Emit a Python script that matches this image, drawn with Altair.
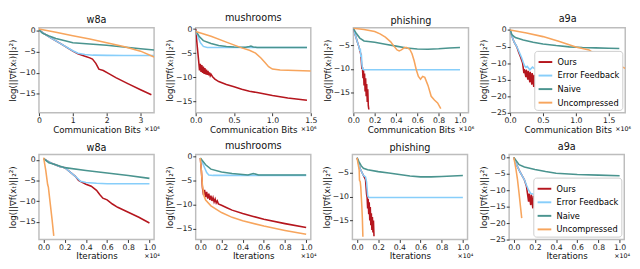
import altair as alt
import pandas as pd

methods = ["Ours", "Error Feedback", "Naive", "Uncompressed"]
colors = ["#b5161e", "#87cefa", "#4a948f", "#f7a55d"]
YTITLE = "log(||∇f(xₜ)||₂²)"

# ---------------- top row: communication bits ----------------
w8a_bits = {
    "Ours": ([0, 0.15, 0.36, 0.64, 1.0, 1.15, 1.36, 1.5, 1.58, 1.68, 1.77, 1.9, 2.05, 2.27, 2.64, 3.0, 3.32],
             [0.3, -0.6, -1.7, -3.0, -4.8, -5.4, -6.0, -6.4, -6.7, -7.7, -9.1, -9.4, -10.1, -11.1, -12.6, -14.0, -15.2]),
    "Error Feedback": ([0, 0.15, 0.36, 0.64, 1.0, 1.15, 1.36, 1.6, 2.0, 2.5, 3.0, 3.4],
                       [0.3, -0.6, -1.7, -3.0, -4.7, -5.3, -5.6, -5.75, -5.8, -5.85, -5.85, -5.85]),
    "Naive": ([0, 0.1, 0.3, 0.5, 0.8, 1.0, 1.5, 2.0, 2.5, 3.0, 3.4],
              [0.3, -0.5, -1.2, -1.8, -2.4, -2.8, -3.1, -3.4, -3.8, -4.2, -4.5]),
    "Uncompressed": ([0, 0.5, 1.0, 1.5, 2.0, 2.5, 3.0, 3.4],
                     [0.5, -0.3, -1.1, -1.9, -2.8, -3.7, -4.8, -6.2]),
}

mush_bits = {
    "Ours": ([0, 0.02, 0.04, 0.05, 0.06, 0.07, 0.08, 0.09, 0.10, 0.11, 0.12, 0.13, 0.14, 0.15, 0.16, 0.17, 0.18, 0.19,
              0.20, 0.22, 0.25, 0.3, 0.4, 0.5, 0.6, 0.7, 0.8, 1.0, 1.2, 1.45],
             [0, -3.5, -6.8, -8.6, -7.2, -8.9, -7.5, -9.1, -7.8, -9.3, -8.1, -9.4, -8.4, -9.5, -8.7, -9.6, -9.0, -9.7,
              -9.4, -9.9, -10.4, -10.9, -11.5, -12.0, -12.5, -12.9, -13.2, -13.8, -14.3, -14.8]),
    "Error Feedback": ([0, 0.03, 0.06, 0.1, 0.15, 0.3, 0.6, 1.0, 1.45],
                       [-0.3, -1.5, -2.8, -3.6, -3.8, -3.8, -3.8, -3.8, -3.8]),
    "Naive": ([0, 0.05, 0.1, 0.2, 0.3, 0.4, 0.5, 0.65, 0.7, 0.72, 0.75, 0.8, 1.0, 1.45],
              [-0.3, -1.6, -2.4, -3.0, -3.4, -3.6, -3.7, -3.75, -3.6, -3.5, -3.7, -3.8, -3.8, -3.8]),
    "Uncompressed": ([0, 0.2, 0.4, 0.6, 0.7, 0.78, 0.85, 0.9, 0.95, 1.0, 1.1, 1.3, 1.5],
                     [-0.5, -1.5, -2.7, -3.9, -4.4, -5.0, -6.0, -6.9, -7.8, -8.3, -8.5, -8.6, -8.7]),
}

phish_bits = {
    "Ours": ([0, 0.02, 0.04, 0.05, 0.06, 0.07, 0.075, 0.08, 0.085, 0.09, 0.095, 0.1, 0.105, 0.11, 0.115, 0.12, 0.125,
              0.13, 0.135, 0.14, 0.145],
             [-1.5, -3.0, -4.5, -5.2, -6.0, -7.0, -8.5, -10.0, -9.6, -12.0, -10.3, -13.5, -11.0, -14.8, -12.0, -15.8, -13.2,
              -17.0, -14.3, -17.8, -18.6]),
    "Error Feedback": ([0, 0.02, 0.04, 0.05, 0.055, 0.06, 0.065, 0.07, 0.075, 0.08, 0.085, 0.09, 0.1, 0.2, 0.4, 0.6, 0.8, 1.0],
                       [-1.5, -3.0, -4.5, -5.2, -5.6, -6.2, -5.7, -7.5, -7.0, -9.0, -9.8, -10.1, -10.2, -10.2, -10.2, -10.2, -10.2, -10.2]),
    "Naive": ([0, 0.03, 0.06, 0.1, 0.2, 0.3, 0.4, 0.5, 0.6, 0.7, 0.8, 0.9, 1.0],
              [-1.5, -2.6, -3.5, -4.1, -4.4, -4.8, -5.2, -5.6, -5.8, -5.85, -5.75, -5.6, -5.5]),
    "Uncompressed": ([0, 0.1, 0.2, 0.25, 0.3, 0.35, 0.38, 0.41, 0.43, 0.45, 0.48, 0.5, 0.53, 0.55, 0.57, 0.59, 0.61,
                      0.63, 0.65, 0.67, 0.7, 0.73, 0.76, 0.79, 0.82],
                     [-1.4, -1.7, -2.1, -2.6, -3.3, -4.3, -5.2, -6.0, -6.2, -6.0, -5.5, -5.5, -5.9, -6.8, -8.3, -10.2, -11.6,
                      -12.2, -11.6, -11.8, -13.5, -15.8, -16.6, -17.2, -18.4]),
}

a9a_bits = {
    "Ours": ([0, 0.03, 0.06, 0.1, 0.13, 0.16, 0.19, 0.21, 0.215, 0.24, 0.245, 0.27, 0.275, 0.3, 0.305, 0.33, 0.335,
              0.36, 0.365, 0.39, 0.395, 0.42, 0.425, 0.45],
             [0, -2.0, -3.6, -5.0, -6.7, -8.2, -10.0, -13.0, -11.8, -14.2, -12.0, -15.0, -12.3, -15.8, -12.6, -16.5, -13.0,
              -17.2, -13.5, -17.8, -14.0, -18.3, -14.5, -18.6]),
    "Error Feedback": ([0, 0.03, 0.06, 0.09, 0.12, 0.15, 0.18, 0.2, 0.22, 0.24,
                        0.26, 0.30, 0.34, 0.38, 0.42, 0.46, 0.50, 0.54, 0.58, 0.62, 0.66, 0.70, 0.74, 0.78, 0.82, 0.86,
                        0.90, 0.94, 0.98, 1.02, 1.06, 1.10, 1.14, 1.18, 1.22, 1.26, 1.30, 1.34, 1.38, 1.42, 1.46, 1.50,
                        1.54, 1.58, 1.62, 1.66],
                       [0, -2.0, -3.6, -4.6, -5.8, -7.2, -8.6, -9.8, -10.8, -11.3,
                        -11.0, -12.0, -11.2, -11.8, -11.1, -12.0, -11.3, -11.9, -11.0, -11.8, -11.2, -12.1, -11.1, -11.9,
                        -11.3, -11.8, -11.0, -12.0, -11.2, -11.9, -11.1, -11.8, -11.3, -12.0, -11.0, -11.9, -11.2, -11.8,
                        -11.1, -12.0, -11.3, -11.9, -11.0, -11.8, -11.2, -11.6]),
    "Naive": ([0, 0.03, 0.08, 0.2, 0.35, 0.5, 0.7, 0.9, 1.1, 1.3, 1.5, 1.66],
              [0, -1.5, -2.3, -3.0, -3.7, -4.2, -4.7, -5.1, -5.3, -5.4, -5.5, -5.6]),
    "Uncompressed": ([0, 0.25, 0.5, 0.75, 1.0, 1.1, 1.2, 1.27, 1.35, 1.45, 1.55, 1.65, 1.75],
                     [0, -0.9, -2.0, -3.5, -5.1, -5.6, -6.0, -7.0, -8.1, -8.8, -9.6, -10.6, -11.6]),
}

# ---------------- bottom row: iterations ----------------
w8a_iter = {
    "Ours": ([0, 0.05, 0.1, 0.15, 0.2, 0.3, 0.33, 0.4, 0.45, 0.5, 0.53, 0.56, 0.6, 0.65, 0.7, 0.8, 0.9, 1.0],
             [0.3, -0.5, -1.1, -1.6, -1.9, -4.0, -5.0, -5.9, -6.4, -7.4, -8.4, -9.3, -9.7, -10.7, -11.5, -12.7, -13.9, -15.3]),
    "Error Feedback": ([0, 0.05, 0.1, 0.15, 0.2, 0.3, 0.35, 0.4, 0.5, 0.6, 0.8, 1.0],
                       [0.3, -0.5, -1.1, -1.6, -1.9, -4.0, -5.2, -5.5, -5.7, -5.8, -5.8, -5.8]),
    "Naive": ([0, 0.05, 0.1, 0.2, 0.4, 0.6, 0.8, 1.0],
              [0.3, -0.7, -1.1, -1.9, -2.6, -3.2, -3.8, -4.5]),
    "Uncompressed": ([0, 0.02, 0.038, 0.045, 0.06, 0.08, 0.096],
                     [0.5, -2.5, -6.0, -6.6, -10.0, -14.5, -18.4]),
}

mush_iter = {
    "Ours": ([0, 0.01, 0.02, 0.03, 0.04, 0.05, 0.06, 0.07, 0.08, 0.09, 0.1, 0.11, 0.12, 0.13, 0.14, 0.15, 0.16, 0.17,
              0.2, 0.25, 0.3, 0.4, 0.5, 0.6, 0.8, 1.0],
             [-0.3, -3.0, -6.5, -8.0, -6.9, -8.4, -7.3, -8.7, -7.7, -9.0, -8.1, -9.2, -8.5, -9.4, -8.8, -9.6, -9.2, -9.8,
              -10.1, -10.6, -11.1, -11.8, -12.4, -13.0, -13.9, -14.7]),
    "Error Feedback": ([0, 0.03, 0.06, 0.08, 0.12, 0.5, 1.0],
                       [-0.3, -1.8, -3.3, -3.8, -3.9, -3.9, -3.9]),
    "Naive": ([0, 0.05, 0.1, 0.2, 0.3, 0.45, 0.5, 0.55, 1.0],
              [-0.3, -1.7, -2.6, -3.2, -3.5, -3.8, -3.5, -3.8, -3.8]),
    "Uncompressed": ([0, 0.01, 0.02, 0.035, 0.05, 0.1, 0.2, 0.3, 0.4, 0.6, 0.8, 1.0],
                     [-0.3, -3.0, -6.0, -8.2, -9.0, -10.2, -11.6, -12.6, -13.3, -14.4, -15.3, -16.1]),
}

phish_iter = {
    "Ours": ([0, 0.03, 0.06, 0.08, 0.09, 0.095, 0.1, 0.105, 0.11, 0.115, 0.12, 0.125, 0.13, 0.135, 0.14, 0.145, 0.15,
              0.155, 0.16],
             [-1.9, -4.2, -5.6, -6.5, -9.5, -10.2, -12.5, -10.5, -13.7, -11.2, -15.0, -12.2, -16.0, -13.5, -17.0, -14.3,
              -17.5, -15.0, -18.3]),
    "Error Feedback": ([0, 0.03, 0.06, 0.08, 0.09, 0.1, 0.11, 0.5, 1.0],
                       [-1.9, -4.2, -5.6, -5.9, -7.0, -9.8, -10.2, -10.2, -10.2]),
    "Naive": ([0, 0.02, 0.04, 0.06, 0.1, 0.2, 0.3, 0.4, 0.5, 0.6, 0.7, 0.8, 0.9, 1.0],
              [-1.9, -2.8, -3.6, -4.1, -4.4, -4.8, -5.1, -5.4, -5.7, -5.9, -5.9, -5.8, -5.7, -5.6]),
    "Uncompressed": ([0, 0.02, 0.023, 0.03, 0.035, 0.045, 0.05, 0.055],
                     [-1.9, -4.5, -6.6, -6.9, -8.0, -12.0, -14.5, -18.4]),
}

a9a_iter = {
    "Ours": ([0, 0.03, 0.06, 0.1, 0.12, 0.14, 0.145, 0.16, 0.165, 0.18, 0.185, 0.2, 0.205, 0.22, 0.225, 0.24, 0.245,
              0.26, 0.265, 0.27],
             [0, -2.5, -4.5, -6.8, -8.8, -13.5, -11.0, -14.5, -11.3, -15.5, -11.7, -16.3, -12.0, -17.0, -12.3, -17.8,
              -12.6, -18.5, -13.0, -18.8]),
    "Error Feedback": ([0, 0.03, 0.06, 0.1, 0.12, 0.14, 0.16,
                        0.18, 0.205, 0.23, 0.255, 0.28, 0.305, 0.33, 0.355, 0.38, 0.405, 0.43, 0.455, 0.48, 0.505, 0.53,
                        0.555, 0.58, 0.605, 0.63, 0.655, 0.68, 0.705, 0.73, 0.755, 0.78, 0.805, 0.83, 0.855, 0.88,
                        0.905, 0.93, 0.955, 0.98, 1.0],
                       [0, -2.5, -4.5, -6.8, -8.5, -10.0, -11.0,
                        -11.1, -11.9, -11.2, -12.0, -11.0, -11.8, -11.3, -11.9, -11.1, -12.0, -11.2, -11.8, -11.0, -11.9,
                        -11.3, -12.0, -11.1, -11.8, -11.2, -11.9, -11.0, -12.0, -11.3, -11.8, -11.1, -11.9, -11.2, -12.0,
                        -11.0, -11.8, -11.3, -11.9, -11.1, -11.5]),
    "Naive": ([0, 0.05, 0.1, 0.2, 0.3, 0.4, 0.6, 0.8, 1.0],
              [0, -2.2, -2.9, -3.7, -4.3, -4.8, -5.2, -5.4, -5.6]),
    "Uncompressed": ([0, 0.02, 0.035, 0.05, 0.065, 0.075],
                     [0, -3.5, -6.8, -11.0, -15.5, -18.5]),
}

W, H = 119, 88

top_panels = [
    ("w8a", w8a_bits, [0, 3.4], [-19.5, 0.8], [0, 1, 2, 3], "d", [0, -5, -10, -15], False),
    ("mushrooms", mush_bits, [0, 1.5], [-17.4, 0.3], [0, 0.5, 1.0, 1.5], ".1f", [0, -5, -10, -15], False),
    ("phishing", phish_bits, [0, 1.08], [-19.3, -1.3], [0, 0.2, 0.4, 0.6, 0.8, 1.0], ".1f", [-5, -10, -15], False),
    ("a9a", a9a_bits, [0, 1.75], [-25, 0.7], [0, 0.5, 1.0, 1.5], ".1f", [0, -5, -10, -15, -20, -25], True),
]
bottom_panels = [
    ("w8a", w8a_iter, [-0.044, 1.044], [-19.3, 1.3], [0, 0.2, 0.4, 0.6, 0.8, 1.0], ".1f", [0, -5, -10, -15], False),
    ("mushrooms", mush_iter, [-0.044, 1.044], [-17.2, 0.45], [0, 0.2, 0.4, 0.6, 0.8, 1.0], ".1f", [0, -5, -10, -15], False),
    ("phishing", phish_iter, [-0.044, 1.044], [-19.0, -1.2], [0, 0.2, 0.4, 0.6, 0.8, 1.0], ".1f", [-5, -10, -15], False),
    ("a9a", a9a_iter, [-0.044, 1.044], [-25, 0.9], [0, 0.2, 0.4, 0.6, 0.8, 1.0], ".1f", [0, -5, -10, -15, -20, -25], True),
]


def make_panel(title, series, xdom, ydom, xticks, xfmt, yticks, legend, xtitle, unit):
    rows = []
    for m in methods:
        xs, ys = series[m]
        rows += [{"x": a, "y": b, "method": m} for a, b in zip(xs, ys)]
    df = pd.DataFrame(rows)
    if legend:
        leg = alt.Legend(title=None, orient="bottom-right", offset=3, strokeColor="#cccccc",
                         fillColor="white", padding=3, cornerRadius=3, labelFontSize=8.5,
                         labelFont="DejaVu Sans", symbolType="stroke", symbolStrokeWidth=2,
                         symbolSize=200, rowPadding=1, labelLimit=200)
    else:
        leg = None
    color = alt.Color("method:N", scale=alt.Scale(domain=methods, range=colors), legend=leg)
    xenc = alt.X("x:Q", scale=alt.Scale(domain=xdom, nice=False, zero=False),
                 axis=alt.Axis(values=xticks, format=xfmt, title=xtitle, labelFlush=False,
                               labelOverlap=False))
    yenc = alt.Y("y:Q", scale=alt.Scale(domain=ydom, nice=False, zero=False),
                 axis=alt.Axis(values=yticks, title=YTITLE, labelOverlap=False, labelFlush=False))
    layers = []
    for m in methods:
        layers.append(
            alt.Chart(df).transform_filter(alt.datum.method == m)
            .mark_line(strokeWidth=1.6, clip=True)
            .encode(x=xenc, y=yenc, color=color)
        )
    unit_txt = alt.Chart(pd.DataFrame({"t": [unit]})).mark_text(
        align="right", baseline="top", fontSize=6.5, font="DejaVu Sans", color="black"
    ).encode(x=alt.value(W + 6), y=alt.value(H + 14), text="t:N")
    return alt.layer(*layers, unit_txt).properties(width=W, height=H, title=title)


top = alt.hconcat(*[make_panel(*p, "Communication Bits", "×10⁶") for p in top_panels], spacing=4)
bottom = alt.hconcat(*[make_panel(*p, "Iterations", "×10⁴") for p in bottom_panels], spacing=4)
top = top.resolve_scale(color="independent").resolve_legend(color="independent")
bottom = bottom.resolve_scale(color="independent").resolve_legend(color="independent")

chart = alt.vconcat(top, bottom, spacing=5).resolve_scale(color="independent").resolve_legend(
    color="independent"
).properties(padding=0).configure_view(
    stroke="#bdbdbd", strokeWidth=1.5
).configure_axis(
    domain=False, grid=False, tickSize=3, tickColor="#333333", labelFontSize=8,
    labelFont="DejaVu Sans", labelColor="#222222", labelPadding=1,
    titleFont="DejaVu Sans", titleFontSize=9, titleFontWeight="normal", titleColor="#111111",
    titlePadding=1
).configure_title(
    fontSize=10, fontWeight="normal", font="DejaVu Sans", offset=2, color="#111111"
)

chart.save("out.html", embed_options={"renderer": "svg", "actions": False})
